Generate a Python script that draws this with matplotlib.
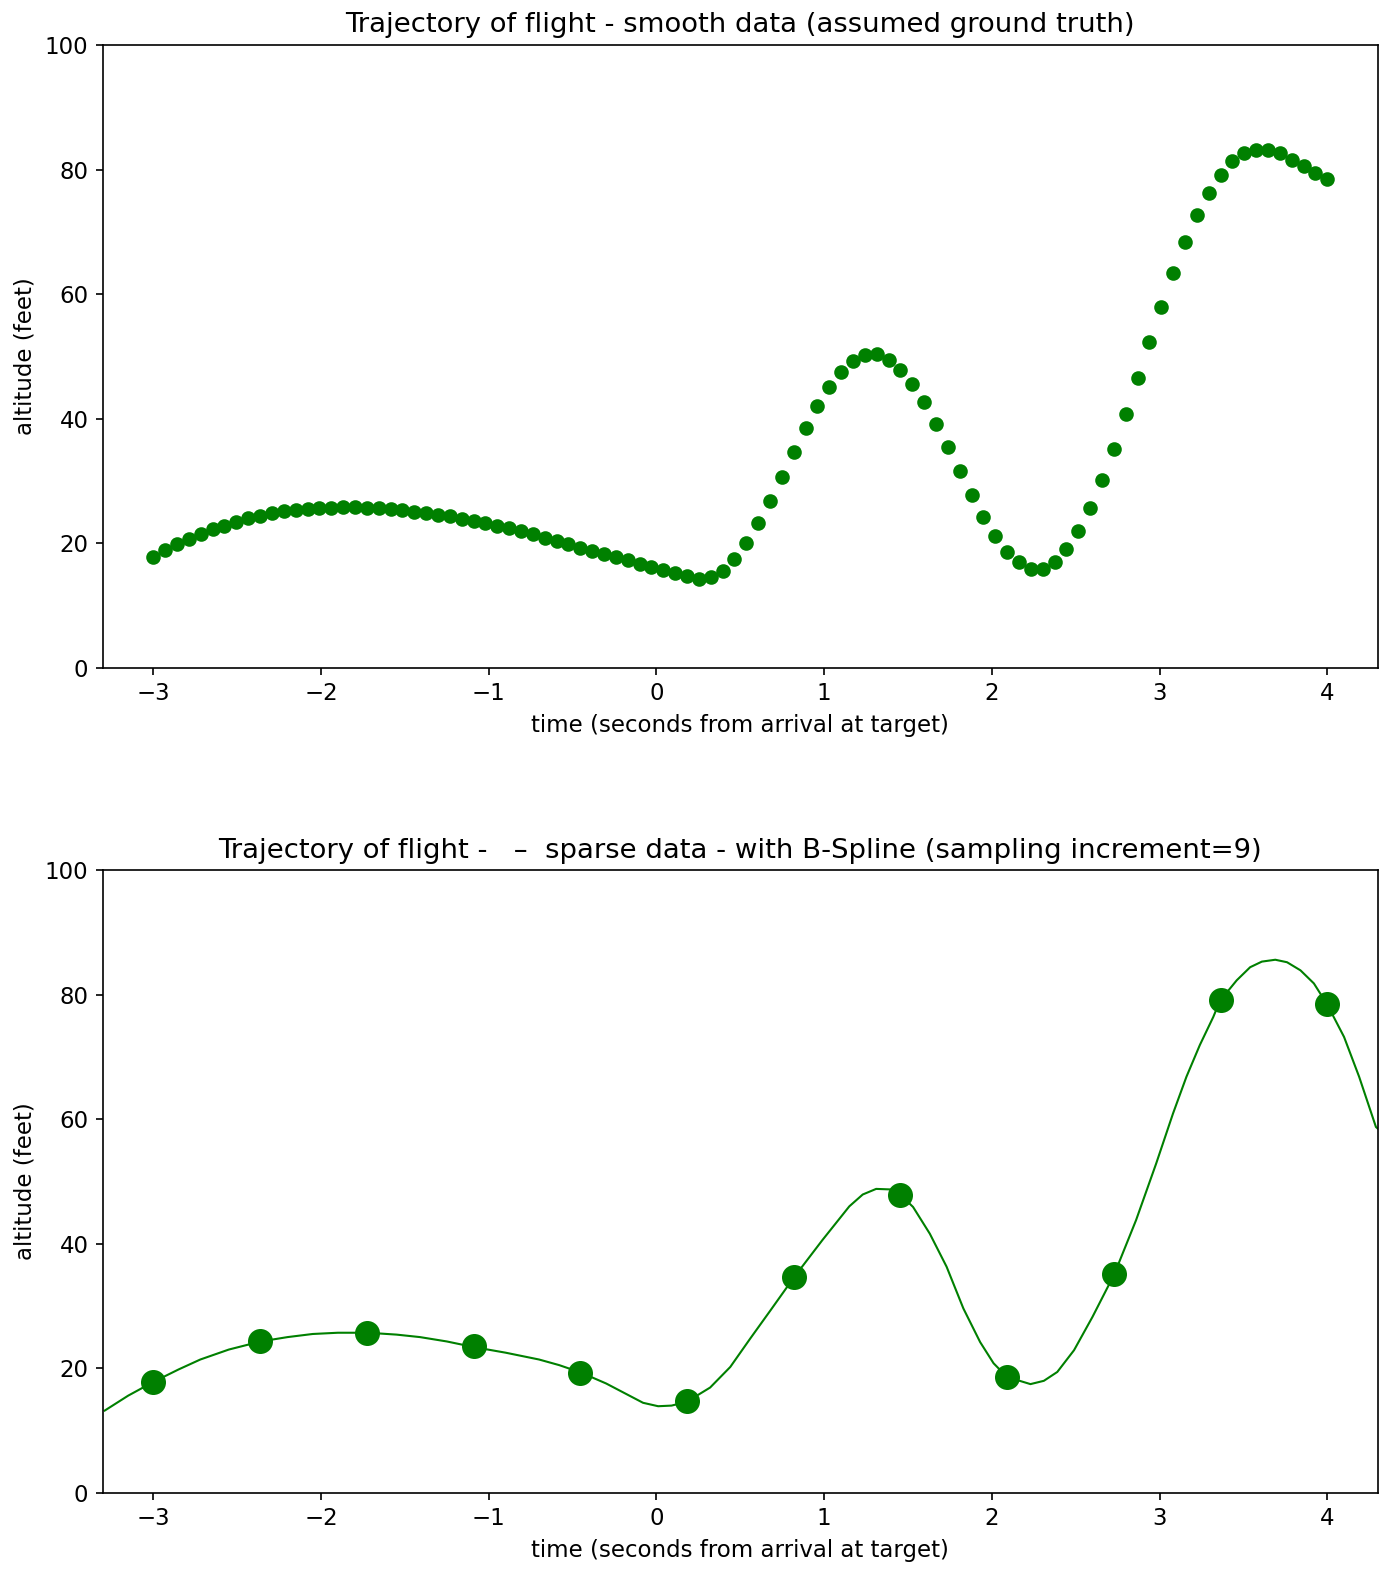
import numpy as np
import matplotlib
matplotlib.use("Agg")
import matplotlib.pyplot as plt

plt.rcParams['font.size'] = 11

# smooth trajectory samples (100 points, -3 .. 4 s)
time = np.linspace(-3, 4, 100)
altitude = [
    17.8, 18.9, 19.8, 20.7, 21.5, 22.2, 22.8, 23.4, 24.0, 24.4,
    24.8, 25.1, 25.4, 25.5, 25.6, 25.7, 25.8, 25.8, 25.7, 25.6,
    25.5, 25.3, 25.0, 24.8, 24.6, 24.3, 23.9, 23.6, 23.2, 22.8,
    22.4, 22.0, 21.4, 20.9, 20.4, 19.8, 19.3, 18.8, 18.3, 17.8,
    17.3, 16.7, 16.2, 15.7, 15.2, 14.7, 14.3, 14.5, 15.5, 17.4,
    20.0, 23.2, 26.8, 30.7, 34.6, 38.5, 42.0, 45.1, 47.5, 49.3,
    50.2, 50.3, 49.4, 47.8, 45.6, 42.6, 39.2, 35.4, 31.6, 27.8,
    24.2, 21.1, 18.6, 16.9, 15.9, 15.9, 17.0, 19.0, 21.9, 25.6,
    30.2, 35.2, 40.7, 46.5, 52.3, 58.0, 63.4, 68.3, 72.7, 76.3,
    79.2, 81.3, 82.6, 83.1, 83.1, 82.6, 81.6, 80.6, 79.5, 78.5,
]

step = 9
sparse_time = time[::step]
sparse_alt = np.array(altitude)[::step]

# B-spline curve as drawn in the reference
spline_time = [
    -3.29, -3.15, -3.00, -2.85, -2.72, -2.55, -2.36, -2.20, -2.05, -1.90,
    -1.72, -1.55, -1.41, -1.25, -1.09, -0.90, -0.70, -0.58,
    -0.45, -0.30, -0.08, 0.01, 0.09, 0.18, 0.32, 0.44, 0.56, 0.68,
    0.82, 0.99, 1.15, 1.23, 1.31, 1.41, 1.46, 1.53, 1.63, 1.73,
    1.83, 1.93, 2.01, 2.09, 2.23, 2.31, 2.39, 2.49, 2.60, 2.73,
    2.86, 2.98, 3.08, 3.16, 3.24, 3.32, 3.36, 3.46, 3.54, 3.61,
    3.69, 3.76, 3.84, 3.92, 4.00, 4.10, 4.19, 4.29, 4.30,
]
spline_alt = [
    13.2, 15.6, 17.8, 19.8, 21.4, 23.0, 24.3, 25.0, 25.5, 25.7,
    25.7, 25.4, 25.0, 24.3, 23.4, 22.5, 21.4, 20.5,
    19.3, 17.55, 14.45, 13.9, 14.0, 14.6, 16.9, 20.2, 24.8, 29.3,
    34.6, 40.6, 46.0, 47.9, 48.8, 48.7, 47.7, 45.9, 41.6, 36.3,
    29.6, 24.2, 20.8, 18.6, 17.45, 17.98, 19.4, 22.9, 28.25, 35.1,
    43.8, 52.9, 60.9, 66.8, 71.9, 76.4, 79.0, 82.3, 84.4, 85.3,
    85.6, 85.2, 83.9, 81.8, 78.4, 73.2, 66.8, 58.75, 58.5,
]

fig, (ax1, ax2) = plt.subplots(2, 1, figsize=(1400 / 150, 1573 / 150), dpi=150)
fig.subplots_adjust(left=0.0736, right=0.984, top=0.9714, bottom=0.051, hspace=0.325)

ax1.plot(time, altitude, 'o', color='green')
ax1.set_title("Trajectory of flight - smooth data (assumed ground truth)")
ax1.set_xlabel("time (seconds from arrival at target)")
ax1.set_ylabel("altitude (feet)")
ax1.set_xlim(-3.3, 4.3)
ax1.set_ylim(0, 100)

ax2.plot(spline_time, spline_alt, '-', color='green', linewidth=1)
ax2.plot(sparse_time, sparse_alt, 'o', color='green', markersize=11)
ax2.set_title("Trajectory of flight -   \u2013  sparse data - with B-Spline (sampling increment=9)")
ax2.set_xlabel("time (seconds from arrival at target)")
ax2.set_ylabel("altitude (feet)")
ax2.set_xlim(-3.3, 4.3)
ax2.set_ylim(0, 100)

fig.savefig("out.png", dpi=150)
